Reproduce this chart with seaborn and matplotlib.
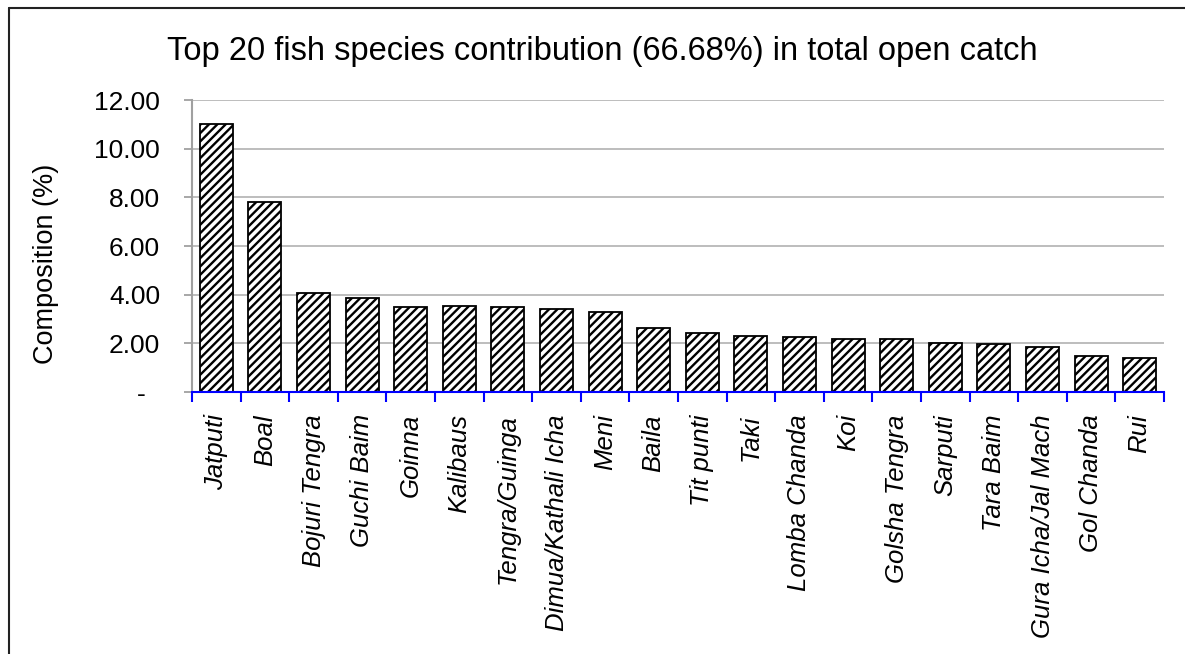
import matplotlib
matplotlib.use("Agg")
import matplotlib.pyplot as plt
import seaborn as sns
import pandas as pd
import numpy as np
from matplotlib.lines import Line2D
from matplotlib.ticker import FixedLocator

# Données
especes = ['Jatputi', 'Boal', 'Bojuri Tengra', 'Guchi Baim', 'Goinna', 'Kalibaus',
           'Tengra/Guinga', 'Dimua/Kathali Icha', 'Meni', 'Baila', 'Tit punti', 'Taki',
           'Lomba Chanda', 'Koi', 'Golsha Tengra', 'Sarputi', 'Tara Baim',
           'Gura Icha/Jal Mach', 'Gol Chanda', 'Rui']
composition = [11.00, 7.82, 4.08, 3.86, 3.49, 3.52, 3.48, 3.40, 3.30, 2.61,
               2.42, 2.30, 2.26, 2.19, 2.16, 2.00, 1.97, 1.84, 1.48, 1.41]
yticks = [0, 2, 4, 6, 8, 10, 12]
ytick_labels = ['-  ', '2.00', '4.00', '6.00', '8.00', '10.00', '12.00']

df = pd.DataFrame({'Espece': especes, 'Composition': composition})

sns.set_theme(style="white")
plt.rcParams['font.family'] = ['Liberation Sans', 'DejaVu Sans']
plt.rcParams['text.color'] = 'black'
plt.rcParams['xtick.labelcolor'] = 'black'
plt.rcParams['ytick.labelcolor'] = 'black'
plt.rcParams['hatch.linewidth'] = 1.7
plt.rcParams['hatch.color'] = 'black'

fig = plt.figure(figsize=(11.85, 6.54), dpi=100)
ax = fig.add_axes([192 / 1185, 1 - 392 / 654, (1164 - 192) / 1185, (392 - 100) / 654])

sns.barplot(x='Espece', y='Composition', data=df, ax=ax, color='white',
            saturation=1, edgecolor='black', linewidth=1.3, width=0.68,
            hatch='////', zorder=3)

ax.set_ylim(0, 12)
ax.set_xlim(-0.5, len(especes) - 0.5)
ax.set_yticks(yticks)
ax.set_yticklabels(ytick_labels, fontsize=19)
ax.yaxis.grid(True, color='#bdbdbd', linewidth=1.4, zorder=0)
ax.set_axisbelow(True)
ax.tick_params(axis='y', length=6, width=1.3, color='#a0a0a0', pad=17, left=True)

# étiquettes au centre, ticks bleus aux frontières
ax.set_xticks(range(len(especes)))
ax.set_xticklabels(especes, rotation=90, fontsize=18.5, style='italic', ha='center', va='top')
ax.tick_params(axis='x', which='major', length=0, pad=16)
ax.xaxis.set_minor_locator(FixedLocator(np.arange(-0.5, len(especes), 1.0)))
ax.tick_params(axis='x', which='minor', length=7, width=1.5, color='#0000ff', bottom=True)

for s in ['top', 'right']:
    ax.spines[s].set_visible(False)
ax.spines['left'].set_color('#a0a0a0')
ax.spines['left'].set_linewidth(1.5)
ax.spines['bottom'].set_color('#0000ff')
ax.spines['bottom'].set_linewidth(1.5)
ax.spines['bottom'].set_zorder(5)

ax.set_xlabel('')
ax.set_ylabel('')
fig.text(46 / 1185, 1 - 264 / 654, 'Composition (%)', rotation=90, fontsize=19.5,
         ha='center', va='center')
fig.text(602 / 1185, 1 - 60 / 654,
         'Top 20 fish species contribution (66.68%) in total open catch',
         fontsize=23.5, ha='center', va='baseline')

# cadre du graphique
fig.add_artist(Line2D([9 / 1185, 9 / 1185], [0, 1 - 8 / 654], color='#222222', lw=1.5))
fig.add_artist(Line2D([9 / 1185, 1], [1 - 8 / 654, 1 - 8 / 654], color='#222222', lw=1.5))

fig.savefig('out.png', dpi=100)
